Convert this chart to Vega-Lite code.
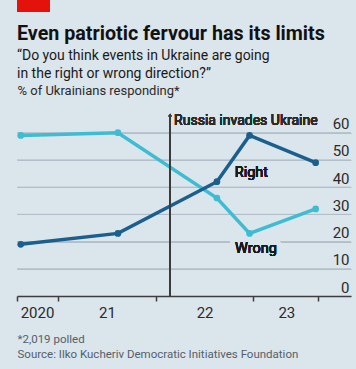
{
  "$schema": "https://vega.github.io/schema/vega-lite/v6.json",
  "background": "#dbe5ec",
  "padding": {"left": 13, "top": 0, "right": 9, "bottom": 9},
  "bounds": "flush",
  "spacing": 103,
  "datasets": {
    "polls": [
      {"date": "2020-08-15", "series": "Wrong", "value": 59},
      {"date": "2021-08-13", "series": "Wrong", "value": 60},
      {"date": "2022-08-18", "series": "Wrong", "value": 36},
      {"date": "2022-12-18", "series": "Wrong", "value": 23},
      {"date": "2023-08-22", "series": "Wrong", "value": 32},
      {"date": "2020-08-15", "series": "Right", "value": 19},
      {"date": "2021-08-13", "series": "Right", "value": 23},
      {"date": "2022-08-18", "series": "Right", "value": 42},
      {"date": "2022-12-18", "series": "Right", "value": 59},
      {"date": "2023-08-22", "series": "Right", "value": 49}
    ]
  },
  "vconcat": [
    {
      "width": 33,
      "height": 12,
      "data": {"values": [{"flag": "red"}]},
      "mark": {"type": "rect", "color": "#e3120b"},
      "encoding": {}
    },
    {
      "width": 334,
      "height": 181,
      "title": {
        "text": "Even patriotic fervour has its limits",
        "subtitle": ["“Do you think events in Ukraine are going", "in the right or wrong direction?”"],
        "anchor": "start",
        "frame": "group",
        "font": "Roboto",
        "fontSize": 19.7,
        "fontWeight": "bold",
        "color": "#121212",
        "subtitleFont": "Roboto",
        "subtitleFontSize": 14,
        "subtitleColor": "#1a1a1a",
        "subtitleLineHeight": 18,
        "subtitlePadding": 5,
        "offset": 3
      },
      "data": {"name": "polls"},
      "resolve": {"axis": {"y": "independent"}},
      "layer": [
        {
          "data": {"values": [{"gridline": 10}, {"gridline": 20}, {"gridline": 30}, {"gridline": 40}, {"gridline": 50}, {"gridline": 60}]},
          "mark": {"type": "rule", "color": "#b3bfc8", "strokeWidth": 1},
          "encoding": {
            "y": {"field": "gridline", "type": "quantitative", "axis": null}
          }
        },
        {
          "mark": {"type": "line", "strokeWidth": 3.5, "point": {"filled": true, "size": 45, "opacity": 1}},
          "encoding": {
            "x": {
              "field": "date",
              "type": "temporal",
              "scale": {
                "type": "utc",
                "domain": [
                  {"year": 2020, "month": 8, "date": 1, "utc": true},
                  {"year": 2024, "month": 1, "date": 1, "utc": true}
                ]
              },
              "axis": {
                "orient": "bottom",
                "values": [
                  {"year": 2020, "month": 8, "date": 1, "utc": true},
                  {"year": 2021, "month": 1, "date": 1, "utc": true},
                  {"year": 2022, "month": 1, "date": 1, "utc": true},
                  {"year": 2023, "month": 1, "date": 1, "utc": true},
                  {"year": 2023, "month": 9, "date": 1, "utc": true}
                ],
                "labelExpr": "utcmonth(datum.value) == 8 ? '' : (utcyear(datum.value) == 2020 ? '2020' : utcFormat(datum.value, '%y'))",
                "labelOffset": {
                  "condition": [
                    {"test": "utcyear(datum.value) == 2020", "value": 20},
                    {"test": "utcyear(datum.value) == 2023", "value": 33}
                  ],
                  "value": 49
                },
                "labelOverlap": false,
                "labelFlush": false,
                "grid": false,
                "domain": true,
                "domainColor": "#3d3d3d",
                "domainWidth": 1.5,
                "ticks": true,
                "tickSize": 5,
                "tickColor": "#3d3d3d",
                "tickWidth": 1.5,
                "labelFont": "Roboto",
                "labelFontSize": 15,
                "labelColor": "#2b2b2b",
                "labelBaseline": "alphabetic",
                "labelPadding": 16,
                "labelAlign": "center",
                "title": ["*2,019 polled", "Source: Ilko Kucheriv Democratic Initiatives Foundation"],
                "titleFont": "Roboto",
                "titleFontSize": 11.5,
                "titleFontWeight": "normal",
                "titleColor": "#55606a",
                "titleAlign": "left",
                "titleBaseline": "alphabetic",
                "titleX": 0,
                "titleY": 46,
                "titleLineHeight": 15
              }
            },
            "y": {
              "field": "value",
              "type": "quantitative",
              "scale": {"domain": [0, 66.5], "nice": false},
              "axis": {
                "orient": "right",
                "values": [0, 10, 20, 30, 40, 50, 60],
                "labelOverlap": false,
                "grid": true,
                "gridColor": "#b3bfc8",
                "gridWidth": 1,
                "gridOpacity": 1,
                "domain": false,
                "ticks": false,
                "labelAlign": "right",
                "labelBaseline": "alphabetic",
                "labelPadding": -2,
                "labelOffset": -4,
                "labelFont": "Roboto",
                "labelFontSize": 15,
                "labelColor": "#2b2b2b",
                "title": "% of Ukrainians responding*",
                "titleFont": "Roboto",
                "titleFontSize": 13,
                "titleFontWeight": "normal",
                "titleColor": "#2b2b2b",
                "titleAngle": 0,
                "titleAlign": "left",
                "titleBaseline": "alphabetic",
                "titleX": -334,
                "titleY": -21
              }
            },
            "color": {
              "field": "series",
              "type": "nominal",
              "scale": {"domain": ["Wrong", "Right"], "range": ["#3ebcd2", "#1b5f8c"]},
              "legend": null
            }
          }
        },
        {
          "mark": {"type": "rule", "color": "#3d3d3d", "strokeWidth": 1},
          "encoding": {
            "x": {"datum": {"year": 2022, "month": 2, "date": 24, "utc": true}, "type": "temporal"},
            "y": {"datum": 0, "type": "quantitative", "axis": null},
            "y2": {"datum": 66.5}
          }
        },
        {
          "mark": {"type": "text", "align": "left", "baseline": "alphabetic", "dx": 4, "dy": 10, "font": "Roboto", "fontSize": 14, "fontWeight": "normal", "color": "#2b2b2b", "text": "Russia invades Ukraine"},
          "encoding": {
            "x": {"datum": {"year": 2022, "month": 2, "date": 24, "utc": true}, "type": "temporal"},
            "y": {"datum": 66.5, "type": "quantitative", "axis": null}
          }
        },
        {
          "mark": {"type": "point", "shape": "triangle-up", "filled": true, "size": 10, "color": "#3d3d3d", "opacity": 1},
          "encoding": {
            "x": {"datum": {"year": 2022, "month": 2, "date": 24, "utc": true}, "type": "temporal"},
            "y": {"datum": 66.5, "type": "quantitative", "axis": null}
          }
        },
        {
          "mark": {"type": "text", "align": "center", "baseline": "alphabetic", "font": "Roboto", "fontSize": 14.5, "fontWeight": "normal", "color": "#1a1a1a", "text": "Right"},
          "encoding": {
            "x": {"datum": {"year": 2022, "month": 12, "date": 25, "utc": true}, "type": "temporal"},
            "y": {"datum": 43.7, "type": "quantitative", "axis": null}
          }
        },
        {
          "mark": {"type": "text", "align": "center", "baseline": "alphabetic", "font": "Roboto", "fontSize": 14.5, "fontWeight": "normal", "color": "#dbe5ec", "stroke": "#dbe5ec", "strokeWidth": 10, "strokeJoin": "round", "text": "Wrong"},
          "encoding": {
            "x": {"datum": {"year": 2023, "month": 1, "date": 11, "utc": true}, "type": "temporal"},
            "y": {"datum": 15.8, "type": "quantitative", "axis": null}
          }
        },
        {
          "mark": {"type": "text", "align": "center", "baseline": "alphabetic", "font": "Roboto", "fontSize": 14.5, "fontWeight": "normal", "color": "#1a1a1a", "text": "Wrong"},
          "encoding": {
            "x": {"datum": {"year": 2023, "month": 1, "date": 11, "utc": true}, "type": "temporal"},
            "y": {"datum": 15.8, "type": "quantitative", "axis": null}
          }
        }
      ]
    }
  ],
  "config": {
    "view": {"stroke": null},
    "font": "Roboto"
  }
}
